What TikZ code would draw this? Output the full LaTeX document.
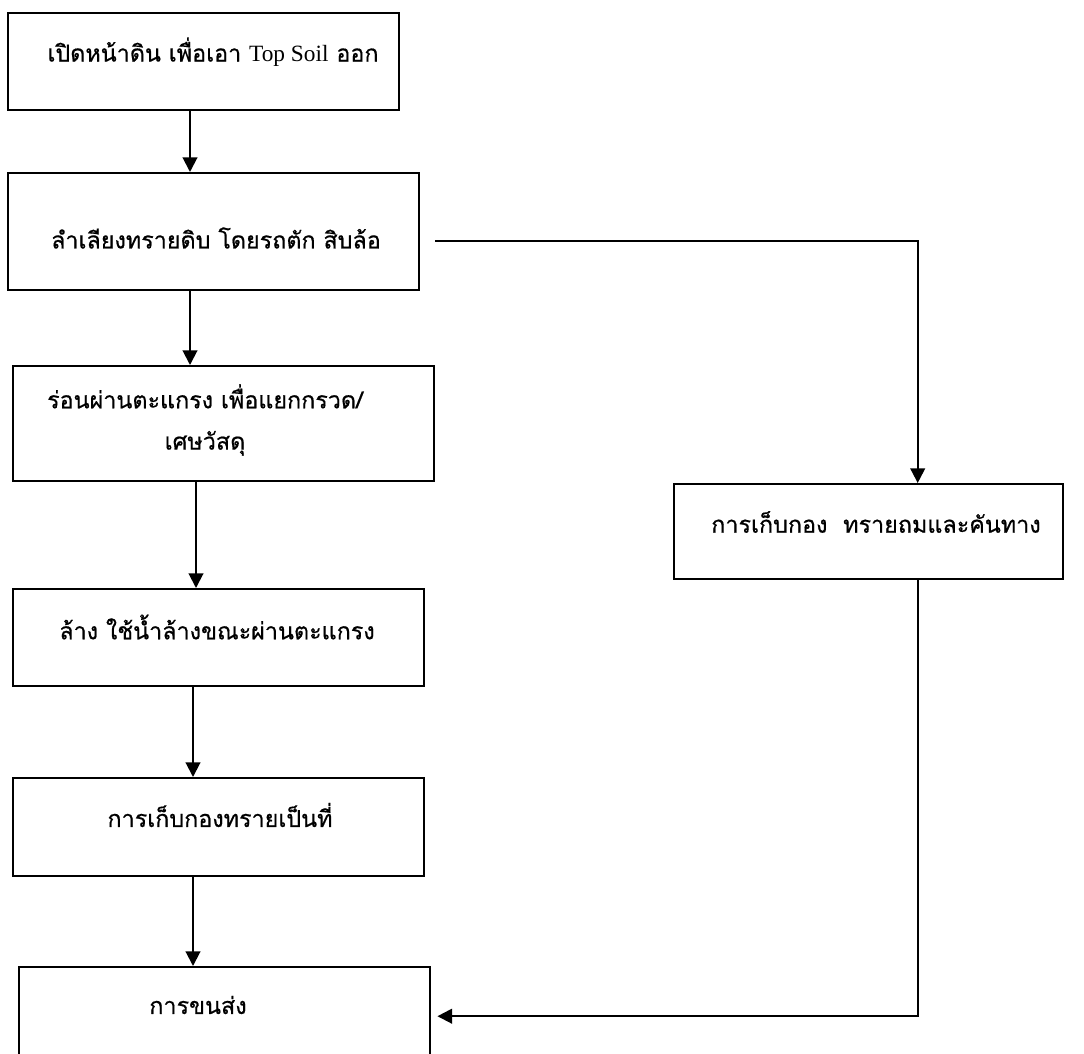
\documentclass[tikz,border=0pt]{standalone}
\usepackage{fontspec}
\setmainfont{Liberation Serif}
\newfontfamily\thaifont[Script=Thai,FakeBold=0.6]{Loma}
\usetikzlibrary{arrows.meta,calc}
\newlength\px
\setlength\px{0.75pt}
\tikzset{
  box/.style={draw=black, line width=1.8pt, anchor=north west, inner sep=0pt},
  lbl/.style={font=\thaifont\fontsize{17.5}{31}\selectfont, inner sep=0pt, align=center},
  arr/.style={line width=1.5pt, -{Triangle[width=11pt,length=11pt]}},
}
\begin{document}
\begin{tikzpicture}[x=0.75pt,y=-0.75pt]
\useasboundingbox (0,0) rectangle (1084,1053);
\clip (0,0) rectangle (1084,1053);
% boxes
\node[box, minimum width=391\px, minimum height=97\px] (b1) at (7,12) {};
\node[box, minimum width=411\px, minimum height=117\px] (b2) at (7,172) {};
\node[box, minimum width=421\px, minimum height=115\px] (b3) at (12,365) {};
\node[box, minimum width=411\px, minimum height=97\px] (b4) at (12,588) {};
\node[box, minimum width=411\px, minimum height=98\px] (b5) at (12,777) {};
\node[box, minimum width=411\px, minimum height=98\px] (b6) at (18,966) {};
\node[box, minimum width=389\px, minimum height=95\px] (r) at (673,483) {};
% texts
\node[lbl] (t1) at (213,52) {เปิดหน้าดิน เพื่อเอา {\fontspec{Liberation Serif}Top Soil} ออก};
\node[lbl] (t2) at (216,238) {ลำเลียงทรายดิบ โดยรถตัก สิบล้อ};
\node[lbl] (t3) at (205,420) {ร่อนผ่านตะแกรง เพื่อแยกกรวด/\\เศษวัสดุ};
\node[lbl] (t4) at (217,627) {ล้าง ใช้น้ำล้างขณะผ่านตะแกรง};
\node[lbl] (t5) at (220,815) {การเก็บกองทรายเป็นที่};
\node[lbl] (t6) at (198,1005) {การขนส่ง};
\node[lbl] (tr) at (876,522) {การเก็บกอง\ \ ทรายถมและคันทาง};
% connectors
\draw[arr] ([xshift=183\px]b1.south west) -- ([xshift=183\px]b2.north west);
\draw[arr] ([xshift=183\px]b2.south west) -- ([xshift=178\px]b3.north west);
\draw[arr] ([xshift=184\px]b3.south west) -- ([xshift=184\px]b4.north west);
\draw[arr] ([xshift=181\px]b4.south west) -- ([xshift=181\px]b5.north west);
\draw[arr] ([xshift=181\px]b5.south west) -- ([xshift=175\px]b6.north west);
\coordinate (rs) at ([xshift=15\px,yshift=-9\px]b2.east);
\draw[arr] (rs) -| ([xshift=49\px]r.north);
\draw[arr] ([xshift=49\px]r.south) |- ([xshift=6\px]b6.east);
\end{tikzpicture}
\end{document}
